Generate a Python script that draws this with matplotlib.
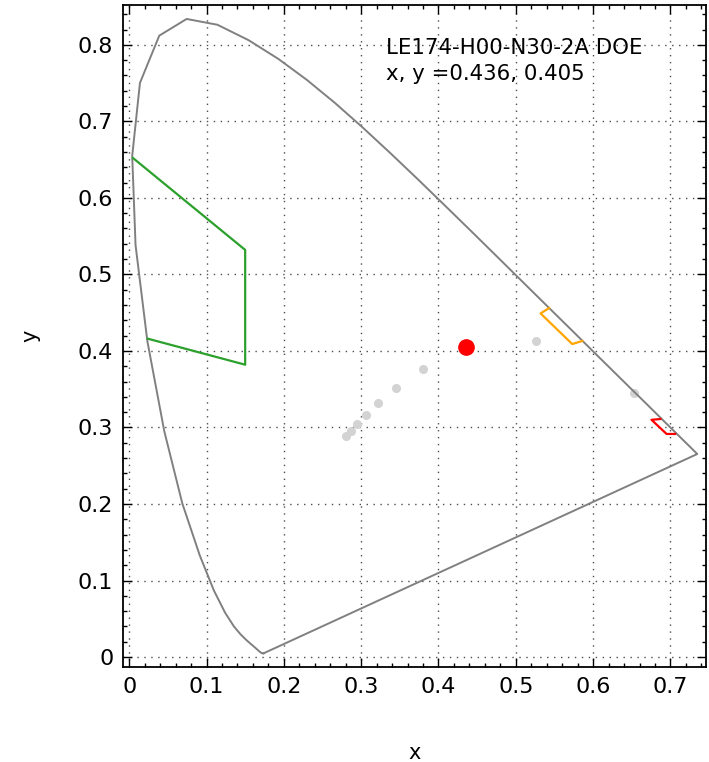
import numpy as np
import matplotlib
matplotlib.use('Agg')
import matplotlib.pyplot as plt
import matplotlib.ticker as mt

# CIE 1931 spectral locus, 380..700 nm in 5 nm steps
locus_x = [0.1741, 0.1740, 0.1738, 0.1736, 0.1733, 0.1730, 0.1726, 0.1721, 0.1714, 0.1703,
           0.1689, 0.1669, 0.1644, 0.1611, 0.1566, 0.1510, 0.1440, 0.1355, 0.1241, 0.1096,
           0.0913, 0.0687, 0.0454, 0.0235, 0.0082, 0.0039, 0.0139, 0.0389, 0.0743, 0.1142,
           0.1547, 0.1929, 0.2296, 0.2658, 0.3016, 0.3373, 0.3731, 0.4087, 0.4441, 0.4788,
           0.5125, 0.5448, 0.5752, 0.6029, 0.6270, 0.6482, 0.6658, 0.6801, 0.6915, 0.7006,
           0.7079, 0.7140, 0.7190, 0.7230, 0.7260, 0.7283, 0.7300, 0.7311, 0.7320, 0.7327,
           0.7334, 0.7340, 0.7344, 0.7346, 0.7347]
locus_y = [0.0050, 0.0050, 0.0049, 0.0049, 0.0048, 0.0048, 0.0048, 0.0048, 0.0051, 0.0058,
           0.0069, 0.0086, 0.0109, 0.0138, 0.0177, 0.0227, 0.0297, 0.0399, 0.0578, 0.0868,
           0.1327, 0.2007, 0.2950, 0.4127, 0.5384, 0.6548, 0.7502, 0.8120, 0.8338, 0.8262,
           0.8059, 0.7816, 0.7543, 0.7243, 0.6923, 0.6589, 0.6245, 0.5896, 0.5547, 0.5202,
           0.4866, 0.4544, 0.4242, 0.3965, 0.3725, 0.3514, 0.3340, 0.3197, 0.3083, 0.2993,
           0.2920, 0.2859, 0.2809, 0.2770, 0.2740, 0.2717, 0.2700, 0.2689, 0.2680, 0.2673,
           0.2666, 0.2660, 0.2656, 0.2654, 0.2653]

# Planckian points (10000K ... 1000K)
bb_x = [0.2807, 0.2870, 0.2950, 0.3064, 0.3221, 0.3451, 0.3805, 0.4369, 0.5267, 0.6528]
bb_y = [0.2884, 0.2952, 0.3050, 0.3166, 0.3318, 0.3516, 0.3768, 0.4041, 0.4133, 0.3444]

green_x = [0.005, 0.150, 0.150, 0.024]
green_y = [0.652, 0.532, 0.382, 0.416]
amber_x = [0.543, 0.532, 0.573, 0.586]
amber_y = [0.456, 0.449, 0.409, 0.413]
red_x = [0.687, 0.6755, 0.695, 0.706]
red_y = [0.311, 0.310, 0.2915, 0.2915]

point_x, point_y = 0.436, 0.405
name = "LE174-H00-N30-2A DOE"

fig = plt.figure(figsize=(7.09, 7.62), dpi=100)
ax = fig.add_axes([0.1735, 0.1247, 0.8223, 0.8687])

ax.plot(bb_x, bb_y, 'o', color='lightgray', ms=5.5, zorder=2)
ax.plot(locus_x + [locus_x[0]], locus_y + [locus_y[0]], color='grey', lw=1.4, zorder=3)
ax.plot(green_x, green_y, color='#2ca02c', lw=1.6, zorder=4)
ax.plot(amber_x, amber_y, color='orange', lw=1.6, zorder=4)
ax.plot(red_x, red_y, color='red', lw=1.6, zorder=4)
ax.plot(point_x, point_y, 'o', color='red', ms=11, zorder=5)

ax.text(0.332, 0.779, name + "\nx, y =%.3f, %.3f" % (point_x, point_y),
        fontsize=15.3, va='center', ha='left', linespacing=1.4)

ax.set_xlim(-0.008, 0.746)
ax.set_ylim(-0.013, 0.852)
ax.xaxis.set_major_locator(mt.MultipleLocator(0.1))
ax.yaxis.set_major_locator(mt.MultipleLocator(0.1))
ax.xaxis.set_minor_locator(mt.MultipleLocator(0.02))
ax.yaxis.set_minor_locator(mt.MultipleLocator(0.02))
ax.xaxis.set_major_formatter(mt.FuncFormatter(lambda v, p: "%g" % round(v, 3)))
ax.yaxis.set_major_formatter(mt.FuncFormatter(lambda v, p: "%g" % round(v, 3)))
ax.tick_params(which='both', direction='in', top=True, right=True, labelsize=16, width=1)
ax.tick_params(which='major', length=6.5, pad=7)
ax.tick_params(which='minor', length=3.2)
ax.grid(True, which='major', color='0.3', linestyle=(0, (1, 4)), lw=1)
for s in ax.spines.values():
    s.set_linewidth(1.3)

ax.set_xlabel("x", fontsize=15)
ax.set_ylabel("y", fontsize=15)
ax.xaxis.set_label_coords(0.5, -0.115)
ax.yaxis.set_label_coords(-0.141, 0.5)

fig.savefig("out.png", dpi=100)
